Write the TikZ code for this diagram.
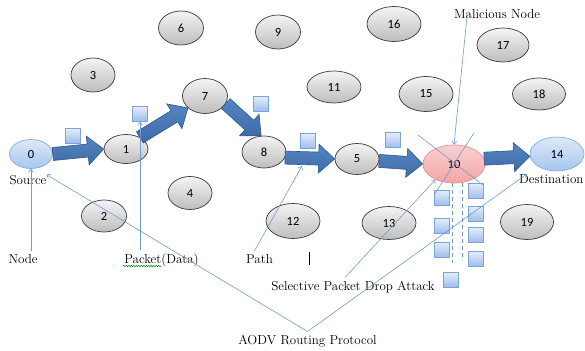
\documentclass[tikz,border=0pt]{standalone}
\usepackage{fontspec}
\newfontfamily\numfont{Carlito}
\usetikzlibrary{shapes.geometric,shapes.misc,arrows.meta,decorations.pathmorphing,calc}
\definecolor{ndtop}{HTML}{F4F4F4}
\definecolor{ndbot}{HTML}{BDBDBD}
\definecolor{ndborder}{HTML}{3A3A3A}
\definecolor{bltop}{HTML}{DDE9F8}
\definecolor{blbot}{HTML}{A6C6EE}
\definecolor{blborder}{HTML}{86ADE0}
\definecolor{pktop}{HTML}{FBD0D0}
\definecolor{pkbot}{HTML}{F4A4A4}
\definecolor{pkborder}{HTML}{E69090}
\definecolor{arrowtop}{HTML}{5585C2}
\definecolor{arrowbot}{HTML}{3E6CA8}
\definecolor{arrowedge}{HTML}{2D5890}
\definecolor{thinblue}{HTML}{6F9BD4}
\definecolor{sqtop}{HTML}{E3EDFB}
\definecolor{sqbot}{HTML}{9CBDEB}
\definecolor{sqborder}{HTML}{7DA2D8}
\newcommand\blockarr[3]{%
  \coordinate (ba#3s) at (#1);
  \coordinate (ba#3t) at (#2);
  \coordinate (ba#3h) at ($(ba#3t)!16pt!(ba#3s)$);
  \draw[blkpoly] ($(ba#3s)!6.5pt!90:(ba#3t)$) -- ($(ba#3h)!6.5pt!90:(ba#3t)$)
    -- ($(ba#3h)!14.5pt!90:(ba#3t)$) -- (ba#3t) -- ($(ba#3h)!14.5pt!-90:(ba#3t)$)
    -- ($(ba#3h)!6.5pt!-90:(ba#3t)$) -- ($(ba#3s)!6.5pt!-90:(ba#3t)$) -- cycle;}
\begin{document}
\begin{tikzpicture}[x=1pt,y=-1pt,
  nd/.style={ellipse, draw=ndborder, line width=0.7pt, top color=ndtop, bottom color=ndbot,
    inner sep=0pt, font=\numfont\fontsize{12.5}{12.5}\selectfont},
  bnd/.style={nd, draw=blborder, top color=bltop, bottom color=blbot},
  pnd/.style={nd, draw=pkborder, top color=pktop, bottom color=pkbot},
  blkpoly/.style={draw=arrowedge, line width=0.6pt, top color=arrowtop, bottom color=arrowbot, line join=miter},
  thn/.style={draw=thinblue, line width=0.6pt, -{Straight Barb[length=3pt,width=5pt]}},
  thnplain/.style={draw=thinblue, line width=0.6pt},
  dashline/.style={draw=thinblue, line width=0.6pt, dash pattern=on 4pt off 3pt},
  pkt/.style={chamfered rectangle, chamfered rectangle corners=south east,
    chamfered rectangle xsep=2.5pt, chamfered rectangle ysep=2.5pt,
    minimum width=15pt, minimum height=15pt, inner sep=0pt,
    draw=sqborder, line width=0.5pt, top color=sqtop, bottom color=sqbot},
  lbl/.style={font=\fontsize{13}{15}\selectfont, inner sep=0pt, anchor=base}
]
\useasboundingbox (0,0) rectangle (585,350);

% nodes
\node[bnd, minimum width=43pt, minimum height=29pt] (n0) at (31,154) {0};
\node[nd, minimum width=44pt, minimum height=29pt] (n1) at (126,149) {1};
\node[nd, minimum width=45pt, minimum height=32pt] (n2) at (104,216) {2};
\node[nd, minimum width=44pt, minimum height=34pt] (n3) at (93,75) {3};
\node[nd, minimum width=44pt, minimum height=33pt] (n4) at (190,193) {4};
\node[nd, minimum width=45pt, minimum height=34pt] (n6) at (181,28) {6};
\node[nd, minimum width=45pt, minimum height=35pt] (n7) at (205,96) {7};
\node[nd, minimum width=44pt, minimum height=32pt] (n8) at (264,152) {8};
\node[nd, minimum width=45pt, minimum height=34pt] (n9) at (278,32) {9};
\node[nd, minimum width=44pt, minimum height=31pt] (n5) at (357,159) {5};
\node[nd, minimum width=54pt, minimum height=32pt] (n11) at (334,87) {11};
\node[nd, minimum width=54pt, minimum height=35pt] (n12) at (293,221) {12};
\node[nd, minimum width=54pt, minimum height=33pt] (n13) at (389,223) {13};
\node[nd, minimum width=54pt, minimum height=35pt] (n15) at (426,94) {15};
\node[nd, minimum width=54pt, minimum height=35pt] (n16) at (394,24) {16};
\node[nd, minimum width=52pt, minimum height=34pt] (n17) at (503,45) {17};
\node[nd, minimum width=53pt, minimum height=32pt] (n18) at (539,94) {18};
\node[nd, minimum width=53pt, minimum height=35pt] (n19) at (527,222) {19};
\node[pnd, minimum width=62pt, minimum height=38pt] (n10) at (454,164) {10};
\node[bnd, minimum width=54pt, minimum height=34pt] (n14) at (557,154) {14};

% packets
\node[pkt] (p0) at (73,136) {};
\node[pkt] (p1) at (140,114) {};
\node[pkt] (p7) at (261,104) {};
\node[pkt] (p8) at (308,141) {};
\node[pkt] (p5) at (393,140) {};
\node[pkt] (pl1) at (442,198) {};
\node[pkt] (pl2) at (442,226) {};
\node[pkt] (pl3) at (442,250) {};
\node[pkt] (pr1) at (476,191) {};
\node[pkt] (pr2) at (476,214) {};
\node[pkt] (pr3) at (476,235) {};
\node[pkt] (pr4) at (476,259) {};
\node[pkt] (pb) at (451,280) {};

% dashed drop lines
\draw[dashline] ([xshift=-2pt]n10.south) -- +(0,80);
\draw[dashline] ([xshift=8pt]n10.south) -- +(0,77);

% block arrows (path)
\blockarr{n0.east}{n1.west}{a}
\blockarr{n1.40}{n7.215}{b}
\blockarr{n7.-20}{n8.100}{c}
\blockarr{n8.-15}{n5.west}{d}
\blockarr{n5.-5}{n10.west}{e}
\blockarr{n10.10}{n14.185}{f}

% labels
\node[lbl] (lSource) at (28,184) {Source};
\node[lbl, anchor=base west] (lDest) at (519,183) {Destination};
\node[lbl] (lMal) at (497,18.5) {Malicious Node};
\node[lbl] (lNode) at (23,263) {Node};
\node[lbl] (lPacket) at (161.5,263) {Packet(Data)};
\node[lbl] (lPath) at (259.5,263) {Path};
\node[lbl] (lSel) at (353,290) {Selective Packet Drop Attack};
\node[lbl] (lAODV) at (307.5,344) {AODV Routing Protocol};

% cross over malicious node
\draw[thnplain] (418,135) -- (483,185);
\draw[thnplain] (474,133) -- (434,195);

% thin connectors
\coordinate (pathpt) at (302,166);
\draw[thn] (n0.south |- lNode.north) ++(0,-3) -- (n0.south);
\draw[thn] (p1.south |- lPacket.north) ++(0,-3) -- (p1.south);
\draw[thn] ([xshift=-5pt,yshift=3pt]lPath.north) -- (pathpt);
\draw[thn] ([xshift=-8pt,yshift=3pt]lSel.north) -- (n10.220);
\draw[thn] ([xshift=-30pt,yshift=2pt]lMal.south) -- (n10.north);
\coordinate (aodvtop) at ([yshift=3pt]lAODV.north);
\draw[thn] (aodvtop) -- (lSource.north east);
\draw[thn] (aodvtop) -- ([xshift=8pt]lDest.north west);

% spelling squiggle and cursor
\draw[green!55!black, line width=0.5pt, decorate, decoration={snake, amplitude=0.7pt, segment length=2.5pt}] (123,266) -- (162,266);
\draw[line width=1pt] (309,252) -- (309,265);
\end{tikzpicture}
\end{document}
